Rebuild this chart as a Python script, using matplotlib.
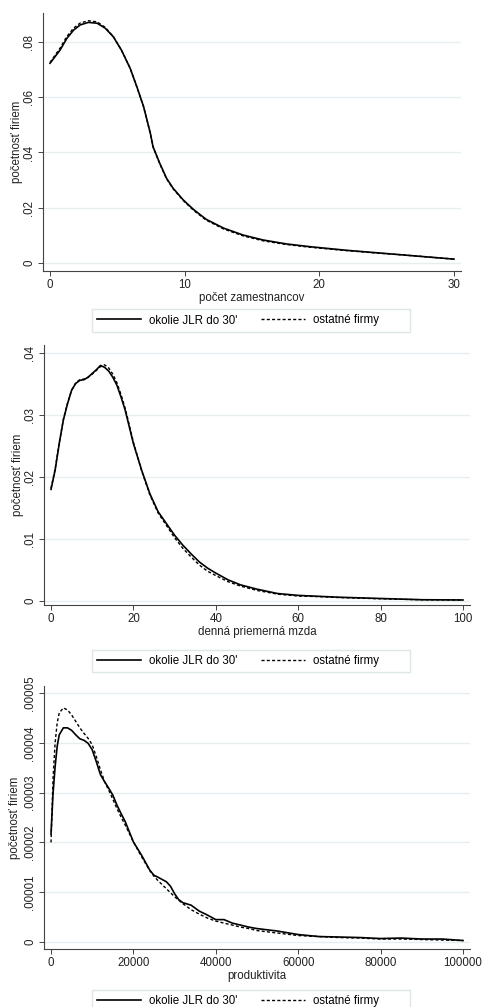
import numpy as np
import matplotlib.pyplot as plt

plt.rcParams['font.family'] = ['Liberation Sans', 'DejaVu Sans']

# panel 1 - pocet zamestnancov
emp_x = [0, 0.75, 1.25, 1.75, 2.25, 2.85, 3.5, 4.1, 4.7, 5.3, 5.95, 6.45, 6.95, 7.2,
         7.45, 7.65, 8.15, 8.65, 9.15, 9.9, 10.65, 11.6, 12.9, 14.35, 15.85, 17.55, 19.3,
         22, 24, 26, 28, 30]
emp_jlr = [0.0723, 0.0771, 0.0813, 0.0843, 0.0862, 0.0871, 0.0868, 0.0850, 0.0819,
           0.0771, 0.0705, 0.0638, 0.0566, 0.0518, 0.0470, 0.0421, 0.0361, 0.0307, 0.0270,
           0.0228, 0.0194, 0.0158, 0.0126, 0.0101, 0.0083, 0.0069, 0.0059,
           0.0046, 0.0038, 0.0030, 0.0022, 0.0014]
emp_oth = [0.0726, 0.0778, 0.0820, 0.0850, 0.0869, 0.0877, 0.0873, 0.0853, 0.0820,
           0.0771, 0.0705, 0.0637, 0.0565, 0.0517, 0.0469, 0.0420, 0.0359, 0.0305, 0.0268,
           0.0226, 0.0191, 0.0155, 0.0123, 0.0098, 0.0080, 0.0067, 0.0057,
           0.0045, 0.0037, 0.0030, 0.0022, 0.0014]

# panel 2 - denna priemerna mzda
wage_x = [0, 1, 2, 3, 4, 5, 6, 7, 8, 9, 10, 11, 12, 13, 14, 15, 16, 17, 18, 19, 20,
          22, 24, 26, 28, 30, 32, 34, 36, 38, 40, 43, 46, 50, 55, 60, 65, 70, 80, 90, 100]
wage_jlr = [0.0180, 0.0211, 0.0254, 0.0292, 0.0318, 0.0340, 0.0351, 0.0356, 0.0357, 0.0361,
            0.0367, 0.0373, 0.0380, 0.0377, 0.0371, 0.0361, 0.0348, 0.0329, 0.0308, 0.0281,
            0.0254, 0.0211, 0.0173, 0.0144, 0.0125, 0.0106, 0.0090, 0.0076, 0.0063, 0.0053,
            0.0045, 0.0034, 0.0026, 0.0019, 0.0012, 0.0009, 0.00075, 0.0006, 0.0004, 0.0002,
            0.00016]
wage_oth = [0.0182, 0.0213, 0.0255, 0.0293, 0.0319, 0.0340, 0.0352, 0.0357, 0.0358, 0.0361,
            0.0366, 0.0372, 0.0378, 0.0381, 0.0376, 0.0366, 0.0352, 0.0333, 0.0311, 0.0284,
            0.0256, 0.0210, 0.0171, 0.0142, 0.0122, 0.0102, 0.0085, 0.0071, 0.0058, 0.0048,
            0.0041, 0.0031, 0.0024, 0.0017, 0.0011, 0.0008, 0.0007, 0.00055, 0.00035, 0.0002,
            0.00015]

# panel 3 - produktivita (x 1e-5)
prod_x = [0, 500, 1000, 1500, 2000, 3000, 4000, 5000, 6000, 7000, 8000, 9000, 10000,
          11000, 12000, 13000, 14000, 15000, 16000, 17000, 18000, 20000, 22000, 24000,
          25000, 26000, 28000, 29000, 30000, 31000, 32000, 34000, 36000, 38000, 40000,
          42000, 44000, 46000, 48000, 50000, 55000, 60000, 65000, 70000, 75000, 80000,
          85000, 90000, 95000, 100000]
prod_jlr = [2.17, 2.99, 3.52, 3.93, 4.16, 4.30, 4.30, 4.25, 4.16, 4.08, 4.05, 3.99, 3.86,
            3.62, 3.36, 3.22, 3.09, 2.95, 2.75, 2.58, 2.42, 2.01, 1.74, 1.44,
            1.34, 1.30, 1.21, 1.12, 0.97, 0.85, 0.79, 0.74, 0.62, 0.54, 0.45,
            0.45, 0.38, 0.34, 0.30, 0.27, 0.22, 0.15, 0.11, 0.10, 0.09, 0.07,
            0.08, 0.06, 0.06, 0.03]
prod_oth = [2.00, 3.30, 4.00, 4.40, 4.60, 4.70, 4.66, 4.56, 4.43, 4.30, 4.19, 4.09, 3.96,
            3.72, 3.46, 3.22, 3.05, 2.87, 2.68, 2.51, 2.35, 2.01, 1.71, 1.43,
            1.32, 1.23, 1.07, 0.99, 0.91, 0.84, 0.77, 0.65, 0.56, 0.48, 0.42,
            0.38, 0.34, 0.30, 0.27, 0.23, 0.18, 0.13, 0.11, 0.09, 0.08, 0.06,
            0.06, 0.05, 0.04, 0.03]
prod_jlr = [v * 1e-5 for v in prod_jlr]
prod_oth = [v * 1e-5 for v in prod_oth]

series_names = ["okolie JLR do 30'", "ostatné firmy" + " " * 8]
ylabel = "početnosť firiem"

panels = [
    dict(x=emp_x, a=emp_jlr, b=emp_oth, xlabel="počet zamestnancov",
         xticks=[0, 10, 20, 30], xlabels=["0", "10", "20", "30"],
         yticks=[0, .02, .04, .06, .08], ylabels=["0", ".02", ".04", ".06", ".08"],
         box=(43, 13, 461, 271), xlim=(-0.52, 30.52), ylim=(-0.0029, 0.0905),
         leg_y=320.5, ylab_off=20),
    dict(x=wage_x, a=wage_jlr, b=wage_oth, xlabel="denná priemerná mzda",
         xticks=[0, 20, 40, 60, 80, 100], xlabels=["0", "20", "40", "60", "80", "100"],
         yticks=[0, .01, .02, .03, .04], ylabels=["0", ".01", ".02", ".03", ".04"],
         box=(44, 345, 470, 605), xlim=(-1.7, 101.7), ylim=(-0.00065, 0.0413),
         leg_y=661, ylab_off=20),
    dict(x=prod_x, a=prod_jlr, b=prod_oth, xlabel="produktivita",
         xticks=[0, 20000, 40000, 60000, 80000, 100000],
         xlabels=["0", "20000", "40000", "60000", "80000", "100000"],
         yticks=[0, 1e-5, 2e-5, 3e-5, 4e-5, 5e-5],
         ylabels=["0", ".00001", ".00002", ".00003", ".00004", ".00005"],
         box=(44, 686, 470, 949), xlim=(-1700, 101700), ylim=(-0.0000014, 0.0000514),
         leg_y=1001, ylab_off=23),
]

W, H = 482, 1007
fig = plt.figure(figsize=(W / 100, H / 100), dpi=100)
axcol = '#444444'
fs = 8.3

for p in panels:
    l, t, r, b = p['box']
    ax = fig.add_axes([l / W, 1 - b / H, (r - l) / W, (b - t) / H])
    for yt in p['yticks']:
        ax.axhline(yt, color='#e6eef0', lw=1.0, zorder=0)
    l1, = ax.plot(p['x'], p['a'], color='black', lw=1.2, zorder=3)
    l2, = ax.plot(p['x'], p['b'], color='black', lw=1.0, ls=(0, (2.2, 1.6)), zorder=2)
    ax.set_xlim(*p['xlim'])
    ax.set_ylim(*p['ylim'])
    ax.set_xticks(p['xticks'])
    ax.set_xticklabels(p['xlabels'])
    ax.set_yticks(p['yticks'])
    ax.set_yticklabels(p['ylabels'], rotation=90, va='center')
    ax.spines['top'].set_visible(False)
    ax.spines['right'].set_visible(False)
    for s in ['left', 'bottom']:
        ax.spines[s].set_color(axcol)
        ax.spines[s].set_linewidth(0.8)
    ax.tick_params(axis='both', labelsize=fs, colors='#222222', length=3.5,
                   width=0.7, pad=2, color=axcol)
    ax.set_xlabel(p['xlabel'], fontsize=fs, labelpad=1, color='#222222')
    ax.set_ylabel(ylabel, fontsize=fs, color='#222222')
    ax.yaxis.set_label_coords(-p['ylab_off'] / (r - l), 0.5)

    fig.legend([l1, l2], series_names, loc='center', ncol=2,
               bbox_to_anchor=(251 / W, 1 - p['leg_y'] / H),
               fontsize=fs, frameon=True, fancybox=False, edgecolor='#dde6e8',
               handlelength=3.8, handletextpad=0.7, columnspacing=2.1,
               borderpad=0.45, framealpha=1)

fig.savefig('out.png', dpi=100)
